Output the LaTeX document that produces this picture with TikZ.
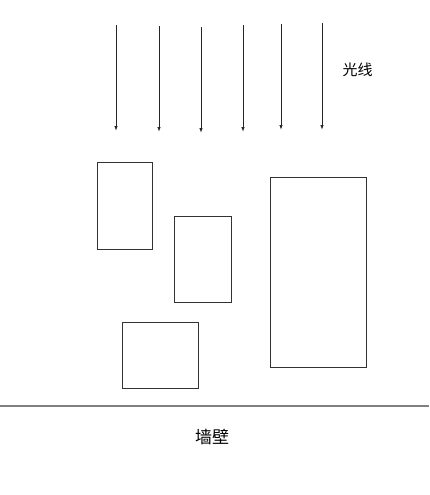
\documentclass[tikz,border=0pt]{standalone}
\usepackage{fontspec}
\newfontfamily\cjk{Noto Sans CJK SC}
\usetikzlibrary{arrows.meta}
\begin{document}
\begin{tikzpicture}[x=1pt,y=-1pt,
  ray/.style={draw=black!85, line width=0.9pt, -{Latex[length=5pt,width=3.5pt]}},
  box/.style={draw=black!80, line width=1pt, fill=none},
  lbl/.style={font=\cjk\fontsize{15}{17}\selectfont, inner sep=0pt},
  wlbl/.style={font=\cjk\fontsize{17}{19}\selectfont, inner sep=0pt}]
\useasboundingbox (0,0) rectangle (429,495);
% rays
\foreach \n/\x/\ya/\yb in {1/116/25/131, 2/159/26/132, 3/201/27/133, 4/243/25/132, 5/281/24/130, 6/322/23/130}{
  \coordinate (s\n) at (\x,\ya);
  \coordinate (e\n) at (\x,\yb);
  \draw[ray] (s\n) -- (e\n);
}
\node[lbl] (light) at (357.5,69.5) {光线};
% boxes
\draw[box] (97,162) rectangle (152,249);
\draw[box] (174,216) rectangle (231,302);
\draw[box] (122,322) rectangle (198,388);
\draw[box] (270,177) rectangle (366,367);
% wall
\coordinate (wl) at (0,406);
\coordinate (wr) at (429,406);
\draw[draw=black!50, line width=1.8pt] (wl) -- (wr);
\node[wlbl] (wall) at (212,437) {墙壁};
\end{tikzpicture}
\end{document}
